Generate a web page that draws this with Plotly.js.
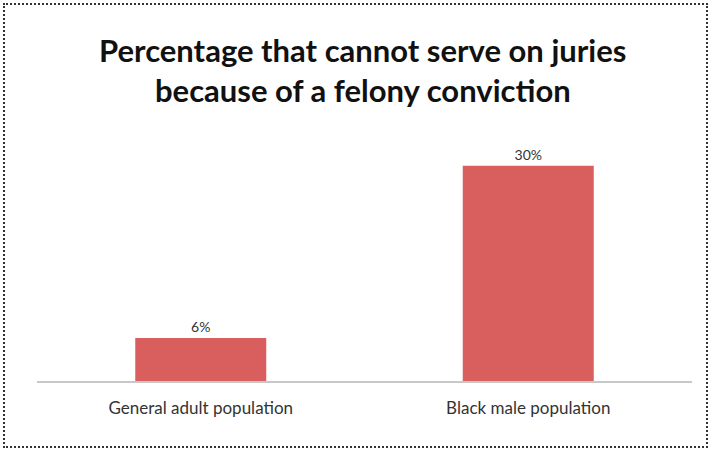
<!DOCTYPE html>
<html>
<head>
<meta charset="utf-8">
<script src="https://cdn.plot.ly/plotly-3.0.1.min.js"></script>
<style>
  html, body { margin: 0; padding: 0; background: #fff; }
  #wrap { position: relative; width: 713px; height: 452px; }
  #chart { width: 713px; height: 452px; }
  #frame { position: absolute; left: 3px; top: 3px; width: 705px; height: 445px;
           border: 2px dotted #333; pointer-events: none; box-sizing: border-box; }
</style>
</head>
<body>
<div id="wrap">
  <div id="chart"></div>
  <div id="frame"></div>
</div>
<script>
const categories = ["General adult population", "Black male population"];
const values = [6, 30];
const valueLabels = ["6%", "30%"];
const titleLines = ["Percentage that cannot serve on juries", "because of a felony conviction"];

const trace = {
  type: "bar",
  x: categories,
  y: values,
  text: valueLabels,
  textposition: "outside",
  cliponaxis: false,
  textfont: { family: "Lato, 'Open Sans', sans-serif", size: 14, color: "#333" },
  marker: { color: "#d95f5f", line: { width: 0 } },
  hoverinfo: "none"
};

const titleFont = { family: "Lato, 'Open Sans', sans-serif", size: 31, color: "#111", weight: "bold" };
const titleY = [1.319, 1.159];

const layout = {
  width: 713, height: 452,
  margin: { l: 37, r: 21, t: 130, b: 71 },
  paper_bgcolor: "#fff", plot_bgcolor: "#fff",
  bargap: 0.6,
  showlegend: false,
  annotations: titleLines.map((t, i) => ({
    text: t, xref: "paper", yref: "paper",
    x: 0.497, y: titleY[i], xanchor: "center", yanchor: "middle",
    showarrow: false, font: titleFont
  })),
  xaxis: {
    type: "category",
    showline: true, linecolor: "#c8c8c8", linewidth: 1.5,
    ticks: "", showgrid: false, zeroline: false,
    tickfont: { family: "Lato, 'Open Sans', sans-serif", size: 17, color: "#333" },
    ticklabelstandoff: 11
  },
  yaxis: {
    range: [0, 35], visible: false, showgrid: false, zeroline: false
  }
};

Plotly.newPlot("chart", [trace], layout, { displayModeBar: false, staticPlot: true });
</script>
</body>
</html>
